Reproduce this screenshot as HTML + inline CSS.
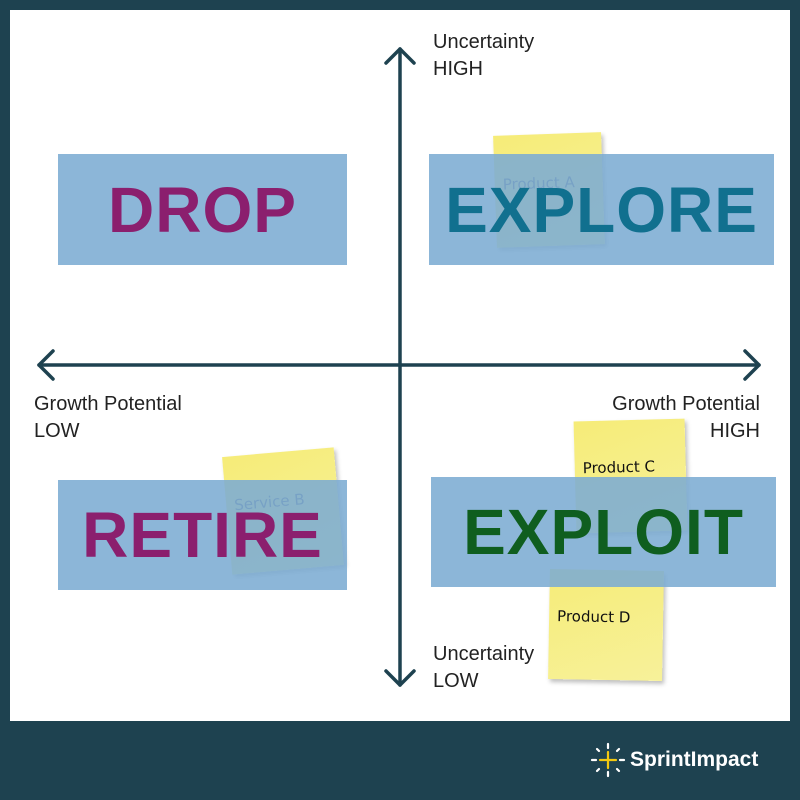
<!DOCTYPE html>
<html><head><meta charset="utf-8"><style>
body{margin:0;width:800px;height:800px;background:#1e4250;position:relative;overflow:hidden;font-family:"Liberation Sans",sans-serif}
.panel{position:absolute;left:10px;top:10px;width:780px;height:711px;background:#fff}
.note{position:absolute;background:linear-gradient(160deg,#f6ec78,#f7f19a);box-shadow:2px 3px 4px rgba(0,0,0,0.25);font-family:"DejaVu Sans",sans-serif;font-size:15px;color:#111;padding-top:38px;padding-left:8px;box-sizing:border-box;white-space:nowrap}
.box{position:absolute;background:rgba(124,172,211,0.88);display:flex;align-items:center;justify-content:center;font-weight:bold;font-size:64px;letter-spacing:1px}
.lbl{position:absolute;font-size:20px;color:#222;line-height:27px;white-space:nowrap}
</style></head><body>
<div class="panel"></div>
<div class="note" style="left:495px;top:134px;width:108px;height:112px;transform:rotate(-2deg);padding-top:40px;color:#556">Product A</div>
<div class="note" style="left:227px;top:452px;width:112px;height:118px;transform:rotate(-5deg);padding-top:40px;color:#556">Service B</div>
<div class="note" style="left:575px;top:420px;width:111px;height:112px;transform:rotate(-1.5deg)">Product C</div>
<div class="note" style="left:549px;top:570px;width:114px;height:110px;transform:rotate(1deg)">Product D</div>
<div class="box" style="left:58px;top:154px;width:289px;height:111px;color:#8b1f6e">DROP</div>
<div class="box" style="left:429px;top:154px;width:345px;height:111px;color:#11708f">EXPLORE</div>
<div class="box" style="left:58px;top:480px;width:289px;height:110px;color:#8b1f6e">RETIRE</div>
<div class="box" style="left:431px;top:477px;width:345px;height:110px;color:#0f5e1f">EXPLOIT</div>
<svg width="800" height="800" style="position:absolute;left:0;top:0">
<g stroke="#1e4250" stroke-width="3.5" fill="none" stroke-linecap="round" stroke-linejoin="round">
<line x1="400" y1="49" x2="400" y2="685"/>
<polyline points="386,63 400,49 414,63"/>
<polyline points="386,671 400,685 414,671"/>
<line x1="39" y1="365" x2="759" y2="365"/>
<polyline points="53,351 39,365 53,379"/>
<polyline points="745,351 759,365 745,379"/>
</g></svg>
<div class="lbl" style="left:433px;top:29px">Uncertainty<br>HIGH</div>
<div class="lbl" style="left:433px;top:641px">Uncertainty<br>LOW</div>
<div class="lbl" style="left:34px;top:391px">Growth Potential<br>LOW</div>
<div class="lbl" style="left:560px;top:391px;text-align:right;width:200px">Growth Potential<br>HIGH</div>
<div style="position:absolute;left:590px;top:742px;height:36px;display:flex;align-items:center">
<svg width="36" height="36" viewBox="0 0 36 36"><g stroke-width="2.2" stroke-linecap="round">
<line x1="18" y1="2" x2="18" y2="6" stroke="#fff"/><line x1="18" y1="30" x2="18" y2="34" stroke="#fff"/>
<line x1="2" y1="18" x2="6" y2="18" stroke="#fff"/><line x1="30" y1="18" x2="34" y2="18" stroke="#fff"/>
<line x1="7" y1="7" x2="9" y2="9" stroke="#fff"/><line x1="27" y1="27" x2="29" y2="29" stroke="#fff"/>
<line x1="29" y1="7" x2="27" y2="9" stroke="#fff"/><line x1="9" y1="27" x2="7" y2="29" stroke="#fff"/>
<line x1="18" y1="10" x2="18" y2="26" stroke="#f2c811"/><line x1="10" y1="18" x2="26" y2="18" stroke="#f2c811"/></g></svg>
<span style="color:#fff;font-weight:bold;font-size:21px;margin-left:4px">SprintImpact</span></div>
</body></html>
